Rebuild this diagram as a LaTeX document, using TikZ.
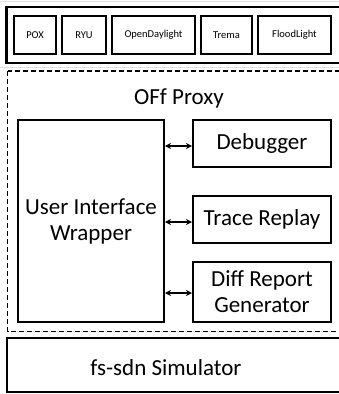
\documentclass[tikz,border=0pt]{standalone}
\usepackage{fontspec}
\setmainfont{Carlito}
\usetikzlibrary{arrows.meta}
\begin{document}
\begin{tikzpicture}[x=1pt,y=-1pt,
  outer/.style={draw=black,line width=2.2pt},
  ctrl/.style={draw=black,line width=2.2pt,font=\fontsize{10.5}{12}\selectfont},
  comp/.style={draw=black,line width=2pt,font=\fontsize{23}{26}\selectfont,align=center},
  lbl/.style={font=\fontsize{23}{26}\selectfont},
  link/.style={{Stealth[length=6pt,width=6pt]}-{Stealth[length=6pt,width=6pt]},line width=1.6pt}]
\useasboundingbox (0,0) rectangle (339,394);
\clip (0,0) rectangle (339,394);
\draw[gray!25,line width=1pt] (0,1.5) -- (339,1.5);
\draw[gray!25,line width=1pt] (0,67.5) -- (339,67.5);
% controller layer
\draw[outer] (6.5,7) rectangle (348,63);
\node[ctrl,minimum width=42pt,minimum height=38pt] (pox) at (35,35) {POX};
\node[ctrl,minimum width=44pt,minimum height=38pt] (ryu) at (84,35) {RYU};
\node[ctrl,minimum width=83pt,minimum height=38pt] (odl) at (153.5,35) {OpenDaylight};
\node[ctrl,minimum width=51pt,minimum height=38pt] (trema) at (226.5,35) {Trema};
\node[ctrl,minimum width=73pt,minimum height=38pt] (flood) at (294.5,35) {FloodLight};
% proxy
\draw[line width=1.8pt,dash pattern=on 5pt off 3pt] (7.5,71) rectangle (345,331.5);
\node[lbl] (proxy) at (179,98) {OFf Proxy};
\node[comp,minimum width=146pt,minimum height=202pt] (ui) at (91,221) {User Interface\\Wrapper};
\node[comp,minimum width=138pt,minimum height=47pt] (dbg) at (262,143.5) {Debugger};
\node[comp,minimum width=138pt,minimum height=47pt] (trace) at (262,219.5) {Trace Replay};
\node[comp,minimum width=138pt,minimum height=60pt,inner sep=1pt] (diff) at (262,292) {Diff Report\\Generator};
\draw[link] (ui.east |- 0,146) -- (dbg.west |- 0,146);
\draw[link] (ui.east |- 0,222) -- (trace.west |- 0,222);
\draw[link] (ui.east |- 0,293) -- (diff.west |- 0,293);
% simulator
\draw[outer] (7,338) rectangle (348,392);
\node[lbl] (sim) at (166,368) {fs-sdn Simulator};
\end{tikzpicture}
\end{document}
